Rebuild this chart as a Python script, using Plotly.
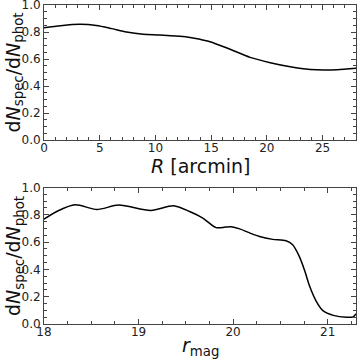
import plotly.graph_objects as go
from plotly.subplots import make_subplots

# Top panel: completeness vs radius
r_arcmin = [0, 1.5, 3.2, 4.7, 6.1, 7.4, 8.9, 10.4, 12.2, 13.1, 14.0, 14.9, 16.7, 18.5, 20.3, 22.1, 23.9, 25.1, 26.3, 28.0]
frac_r = [0.832, 0.847, 0.857, 0.849, 0.825, 0.800, 0.783, 0.778, 0.768, 0.760, 0.746, 0.728, 0.672, 0.612, 0.573, 0.543, 0.523, 0.519, 0.521, 0.531]

# Bottom panel: completeness vs magnitude
rmag = [18.0, 18.15, 18.33, 18.56, 18.79, 19.13, 19.37, 19.54, 19.68, 19.82, 19.92, 19.98, 20.07, 20.18, 20.30,
        20.42, 20.56, 20.63, 20.70, 20.76, 20.81, 20.88, 20.95, 21.06, 21.20, 21.27, 21.30]
frac_mag = [0.768, 0.830, 0.873, 0.839, 0.871, 0.832, 0.866, 0.824, 0.776, 0.706, 0.710, 0.712, 0.697, 0.666, 0.637,
            0.620, 0.610, 0.580, 0.495, 0.385, 0.276, 0.166, 0.098, 0.063, 0.049, 0.052, 0.075]

ytick_vals = [0.0, 0.2, 0.4, 0.6, 0.8, 1.0]
xtop_ticks = [0, 5, 10, 15, 20, 25]
xbot_ticks = [18, 19, 20, 21]

W, H = 357, 359
ML, MR, MT, MB = 44, 1, 5, 35
PW, PH = W - ML - MR, H - MT - MB


def px_x(px):
    return (px - ML) / PW


def px_y(py):
    return (H - MB - py) / PH


fig = make_subplots(rows=2, cols=1, vertical_spacing=0.149)

fig.add_trace(go.Scatter(x=r_arcmin, y=frac_r, mode="lines",
                         line=dict(color="black", width=1.5, shape="spline", smoothing=0.8)), row=1, col=1)
fig.add_trace(go.Scatter(x=rmag, y=frac_mag, mode="lines",
                         line=dict(color="black", width=1.5, shape="spline", smoothing=0.8)), row=2, col=1)

axcol = "#444444"
font = "DejaVu Sans"
common_axis = dict(showgrid=False, zeroline=False, showline=True, linecolor=axcol, linewidth=1,
                   mirror="allticks", ticks="inside", ticklen=5, tickcolor=axcol, automargin=False,
                   ticklabeloverflow="allow",
                   tickfont=dict(family=font, size=12, color="#222222"))

fig.update_yaxes(**common_axis, range=[0, 1.0], tickvals=ytick_vals, tickformat=".1f",
                 minor=dict(ticks="inside", ticklen=3, tickcolor=axcol, dtick=0.05))
fig.update_xaxes(**common_axis, row=1, col=1, range=[0, 28], tickvals=xtop_ticks, ticklabelstandoff=-3,
                 minor=dict(ticks="inside", ticklen=3, tickcolor=axcol, dtick=1))
fig.update_xaxes(**common_axis, row=2, col=1, range=[18, 21.3], tickvals=xbot_ticks, ticklabelstandoff=-3,
                 minor=dict(ticks="inside", ticklen=3, tickcolor=axcol, dtick=0.25))

fig.update_layout(yaxis=dict(domain=[px_y(140), 1.0]), yaxis2=dict(domain=[0.0, px_y(187.5)]))

ytitle = "d<i>N</i><sub>spec</sub>/d<i>N</i><sub>phot</sub>"
tfont = dict(family=font, size=19, color="#111111")
annots = [
    dict(text=ytitle, x=px_x(14), y=px_y(72.5), textangle=-90),
    dict(text=ytitle, x=px_x(14), y=px_y(256), textangle=-90),
    dict(text="<i>R</i> [arcmin]", x=px_x(200), y=px_y(166), textangle=0),
    dict(text="<i>r</i><sub>mag</sub>", x=px_x(200), y=px_y(346), textangle=0),
]
for a in annots:
    fig.add_annotation(xref="paper", yref="paper", showarrow=False, xanchor="center", yanchor="middle",
                       font=tfont, **a)

fig.update_layout(width=W, height=H, margin=dict(l=ML, r=MR, t=MT, b=MB),
                  plot_bgcolor="white", paper_bgcolor="white", showlegend=False)

fig.write_html("out.html", config={"displayModeBar": False},
               post_script="document.body.style.margin='0';document.body.style.overflow='hidden';")
